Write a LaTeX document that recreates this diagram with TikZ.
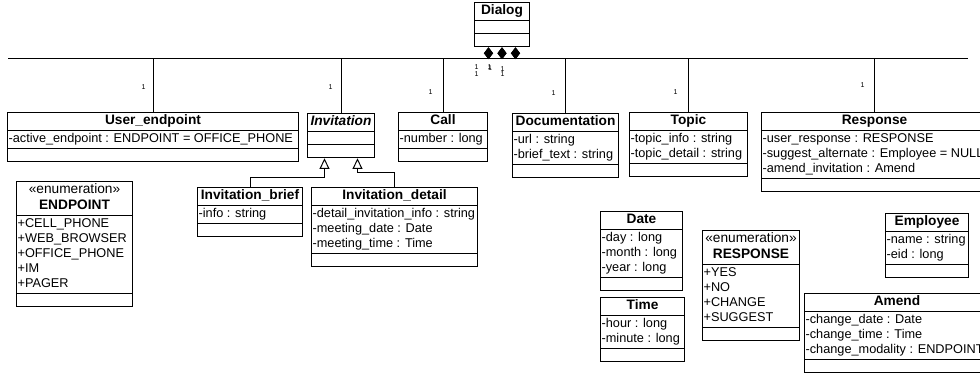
\documentclass[tikz,border=0pt]{standalone}
\usepackage{fontspec}
\setmainfont{Liberation Sans}
\usetikzlibrary{arrows.meta, shapes.multipart, calc}

\newlength{\pxu}\setlength{\pxu}{0.25mm}
\newcommand{\attrfont}{\fontsize{9.05}{10.67}\selectfont}
\newcommand{\titlefont}{\fontsize{9.75}{11.4}\selectfont}
\newcommand{\ctitle}[1]{{\titlefont\begin{tabular}{@{}c@{}}#1\end{tabular}}}
\newcommand{\attrs}[1]{\begin{tabular}{@{}l@{}}#1\end{tabular}}

\tikzset{
  umlclass/.style={draw, line width=0.7pt, rectangle split, rectangle split parts=3,
    rectangle split part align={center,left,left},
    rectangle split empty part height=7.5pt, rectangle split empty part depth=0pt,
    anchor=north west, inner xsep=0.8pt, inner ysep=0.5pt, font=\attrfont},
  mult/.style={font=\fontsize{5}{6}\selectfont, inner sep=0pt},
  compose/.style={line width=0.7pt, {Diamond[length=8.5pt, width=6.5pt]}-},
  general/.style={line width=0.7pt, -{Triangle[open, length=7.5pt, width=7pt]}},
}

\begin{document}
\begin{tikzpicture}[x=0.25mm, y=-0.25mm]
\useasboundingbox (0,0) rectangle (980,372);
\clip (0,0) rectangle (980,372);

\node[umlclass, minimum width=55\pxu] at (474, 2) (dialog) {\ctitle{\textbf{Dialog}}\nodepart{second}\nodepart{third}};

%% top row
\node[umlclass, minimum width=291\pxu] at (7, 112) (userep) {\ctitle{\textbf{User\_endpoint}}\nodepart{second}\attrs{-active\_endpoint : ENDPOINT = OFFICE\_PHONE}\nodepart{third}};
\node[umlclass, minimum width=67\pxu] at (307, 113) (invitation) {\ctitle{\textbf{\textit{Invitation}}}\nodepart{second}\nodepart{third}};
\node[umlclass, minimum width=89\pxu] at (398, 112) (call) {\ctitle{\textbf{Call}}\nodepart{second}\attrs{-number : long}\nodepart{third}};
\node[umlclass, minimum width=106\pxu] at (512, 113) (docu) {\ctitle{\textbf{Documentation}}\nodepart{second}\attrs{-url : string\\-brief\_text : string}\nodepart{third}};
\node[umlclass, minimum width=118\pxu] at (629, 112) (topic) {\ctitle{\textbf{Topic}}\nodepart{second}\attrs{-topic\_info : string\\-topic\_detail : string}\nodepart{third}};
\node[umlclass, minimum width=226\pxu] at (761, 112) (response) {\ctitle{\textbf{Response}}\nodepart{second}\attrs{-user\_response : RESPONSE\\-suggest\_alternate : Employee = NULL\\-amend\_invitation : Amend}\nodepart{third}};

%% subclasses
\node[umlclass, minimum width=105\pxu] at (197, 187) (ibrief) {\ctitle{\textbf{Invitation\_brief}}\nodepart{second}\attrs{-info : string}\nodepart{third}};
\node[umlclass, minimum width=166\pxu] at (311, 187) (idetail) {\ctitle{\textbf{Invitation\_detail}}\nodepart{second}\attrs{-detail\_invitation\_info : string\\-meeting\_date : Date\\-meeting\_time : Time}\nodepart{third}};

%% enumerations and data types
\node[umlclass, minimum width=116\pxu] at (16, 181) (endpoint) {\ctitle{«enumeration»\\\textbf{ENDPOINT}}\nodepart{second}\attrs{+CELL\_PHONE\\+WEB\_BROWSER\\+OFFICE\_PHONE\\+IM\\+PAGER}\nodepart{third}};
\node[umlclass, minimum width=82\pxu] at (600, 211) (date) {\ctitle{\textbf{Date}}\nodepart{second}\attrs{-day : long\\-month : long\\-year : long}\nodepart{third}};
\node[umlclass, minimum width=84\pxu] at (600, 297) (time) {\ctitle{\textbf{Time}}\nodepart{second}\attrs{-hour : long\\-minute : long}\nodepart{third}};
\node[umlclass, minimum width=97\pxu] at (702, 230) (respenum) {\ctitle{«enumeration»\\\textbf{RESPONSE}}\nodepart{second}\attrs{+YES\\+NO\\+CHANGE\\+SUGGEST}\nodepart{third}};
\node[umlclass, minimum width=83\pxu] at (885, 213) (employee) {\ctitle{\textbf{Employee}}\nodepart{second}\attrs{-name : string\\-eid : long}\nodepart{third}};
\node[umlclass, minimum width=185\pxu] at (804, 293) (amend) {\ctitle{\textbf{Amend}}\nodepart{second}\attrs{-change\_date : Date\\-change\_time : Time\\-change\_modality : ENDPOINT}\nodepart{third}};

%% composition from Dialog
\coordinate (bus) at (0, 58);
\coordinate (busw) at (8, 58);
\coordinate (buse) at (968, 58);
\draw[line width=0.7pt] (busw) -- (buse);
\coordinate (d1) at ($(dialog.south)+(-13.5, 0)$);
\coordinate (d2) at (dialog.south);
\coordinate (d3) at ($(dialog.south)+(13.5, 0)$);
\draw[compose] (d1) |- (userep.north |- bus) -- (userep.north);
\draw[compose] (d1) |- (invitation.north |- bus) -- (invitation.north);
\draw[compose] (d2) |- (call.north |- bus) -- (call.north);
\draw[compose] (d2) |- (docu.north |- bus) -- (docu.north);
\draw[compose] (d3) |- (topic.north |- bus) -- (topic.north);
\draw[compose] (d3) |- (response.north |- bus) -- (response.north);

%% multiplicities
\node[mult] (m1) at ($(userep.north)+(-9.5, -25)$) {1};
\node[mult] (m2) at ($(invitation.north)+(-10.5, -26)$) {1};
\node[mult] (m3) at ($(call.north)+(-12.5, -20)$) {1};
\node[mult] (m4) at ($(docu.north)+(-12, -20)$) {1};
\node[mult] (m5) at ($(topic.north)+(-13, -20)$) {1};
\node[mult] (m6) at ($(response.north)+(-12, -27)$) {1};
\node[mult] (n1) at ($(d1)+(-12, 19.5)$) {1};
\node[mult] (n2) at ($(d1)+(-12, 26.5)$) {1};
\node[mult] (n3) at ($(d2)+(-12.5, 19.5)$) {1};
\node[mult] (n4) at ($(d2)+(-12, 20.5)$) {1};
\node[mult] (n5) at ($(d3)+(-13, 21.5)$) {1};
\node[mult] (n6) at ($(d3)+(-13, 26.5)$) {1};

%% generalization
\draw[general] (ibrief.north) |- ($(invitation.south)+(-16.5, 19)$) -- ($(invitation.south)+(-16.5, 0)$);
\draw[general] (idetail.north) |- ($(invitation.south)+(16.5, 14)$) -- ($(invitation.south)+(16.5, 0)$);
\end{tikzpicture}
\end{document}
